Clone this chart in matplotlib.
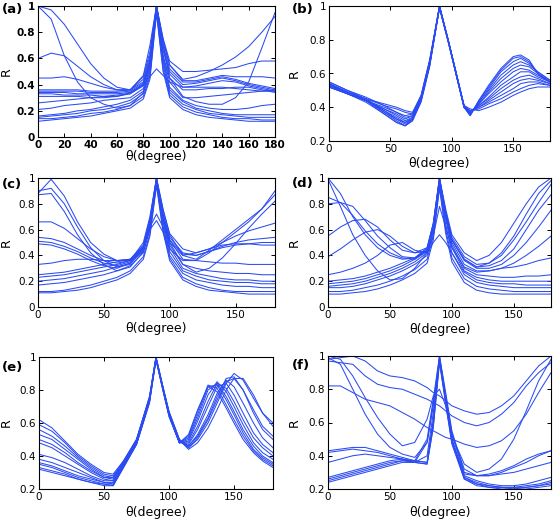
import matplotlib
matplotlib.use("Agg")
import matplotlib.pyplot as plt

# theta grids (degrees)
theta = [0, 10, 20, 30, 40, 50, 60, 70, 80, 85, 90, 95, 100, 110, 120, 130, 140, 150, 160, 170, 180]
theta_b = [0, 15, 30, 45, 55, 62, 68, 75, 82, 90, 97, 104, 110, 115, 122, 130, 140, 150, 156, 163, 170, 180]
theta_e = [0, 10, 20, 30, 40, 50, 57, 65, 75, 85, 90, 95, 100, 108, 115, 122, 130, 137, 144, 150, 157, 165, 172, 180]

# (a)
R_a = [
    [1.00, 0.90, 0.62, 0.42, 0.30, 0.25, 0.22, 0.24, 0.34, 0.55, 1.00, 0.70, 0.45, 0.31, 0.27, 0.25, 0.25, 0.30, 0.42, 0.68, 0.95],
    [1.00, 0.97, 0.86, 0.71, 0.56, 0.45, 0.38, 0.36, 0.47, 0.70, 1.00, 0.75, 0.55, 0.44, 0.46, 0.50, 0.55, 0.61, 0.69, 0.80, 0.92],
    [0.60, 0.64, 0.62, 0.54, 0.46, 0.40, 0.36, 0.36, 0.46, 0.65, 1.00, 0.75, 0.58, 0.50, 0.50, 0.51, 0.52, 0.53, 0.56, 0.58, 0.58],
    [0.45, 0.45, 0.46, 0.44, 0.41, 0.38, 0.36, 0.36, 0.44, 0.62, 1.00, 0.72, 0.55, 0.43, 0.43, 0.45, 0.47, 0.46, 0.46, 0.46, 0.45],
    [0.36, 0.36, 0.36, 0.36, 0.35, 0.35, 0.35, 0.36, 0.42, 0.60, 1.00, 0.70, 0.52, 0.42, 0.42, 0.44, 0.46, 0.44, 0.41, 0.39, 0.37],
    [0.35, 0.35, 0.35, 0.35, 0.34, 0.34, 0.34, 0.35, 0.41, 0.58, 0.98, 0.68, 0.50, 0.40, 0.41, 0.43, 0.45, 0.43, 0.40, 0.38, 0.36],
    [0.34, 0.34, 0.34, 0.33, 0.33, 0.33, 0.33, 0.34, 0.40, 0.56, 0.96, 0.66, 0.48, 0.38, 0.39, 0.41, 0.43, 0.42, 0.39, 0.37, 0.35],
    [0.33, 0.33, 0.32, 0.32, 0.32, 0.31, 0.31, 0.33, 0.39, 0.55, 0.97, 0.62, 0.45, 0.36, 0.36, 0.37, 0.37, 0.38, 0.38, 0.36, 0.34],
    [0.31, 0.31, 0.31, 0.31, 0.30, 0.30, 0.31, 0.34, 0.40, 0.46, 0.52, 0.47, 0.42, 0.38, 0.38, 0.38, 0.38, 0.37, 0.36, 0.35, 0.35],
    [0.26, 0.27, 0.28, 0.29, 0.30, 0.31, 0.32, 0.33, 0.40, 0.56, 0.95, 0.62, 0.42, 0.30, 0.30, 0.31, 0.32, 0.33, 0.34, 0.35, 0.36],
    [0.21, 0.22, 0.24, 0.25, 0.26, 0.28, 0.29, 0.30, 0.37, 0.52, 1.00, 0.60, 0.38, 0.28, 0.24, 0.22, 0.21, 0.21, 0.22, 0.24, 0.25],
    [0.16, 0.17, 0.18, 0.20, 0.21, 0.23, 0.25, 0.28, 0.35, 0.50, 1.00, 0.58, 0.36, 0.27, 0.22, 0.20, 0.18, 0.17, 0.17, 0.17, 0.17],
    [0.15, 0.16, 0.17, 0.18, 0.20, 0.21, 0.23, 0.26, 0.33, 0.48, 0.98, 0.55, 0.34, 0.25, 0.21, 0.18, 0.17, 0.16, 0.15, 0.15, 0.15],
    [0.14, 0.14, 0.15, 0.16, 0.18, 0.19, 0.21, 0.24, 0.31, 0.46, 0.96, 0.52, 0.32, 0.23, 0.19, 0.17, 0.15, 0.14, 0.14, 0.13, 0.13],
    [0.12, 0.13, 0.14, 0.15, 0.16, 0.18, 0.20, 0.22, 0.29, 0.44, 0.94, 0.50, 0.30, 0.21, 0.17, 0.15, 0.14, 0.13, 0.12, 0.12, 0.12],
]

# (b)
R_b = [
    [0.53, 0.49, 0.45, 0.42, 0.40, 0.38, 0.37, 0.47, 0.68, 1.00, 0.80, 0.58, 0.41, 0.39, 0.38, 0.40, 0.43, 0.47, 0.49, 0.51, 0.52, 0.52],
    [0.54, 0.49, 0.45, 0.41, 0.39, 0.37, 0.36, 0.47, 0.68, 1.00, 0.80, 0.58, 0.40, 0.38, 0.39, 0.42, 0.45, 0.49, 0.51, 0.53, 0.54, 0.53],
    [0.52, 0.48, 0.44, 0.40, 0.37, 0.35, 0.36, 0.46, 0.67, 0.99, 0.80, 0.59, 0.41, 0.38, 0.40, 0.43, 0.47, 0.51, 0.54, 0.55, 0.55, 0.53],
    [0.55, 0.50, 0.46, 0.41, 0.37, 0.34, 0.35, 0.46, 0.67, 0.99, 0.79, 0.58, 0.40, 0.37, 0.40, 0.44, 0.49, 0.54, 0.56, 0.57, 0.56, 0.54],
    [0.53, 0.49, 0.44, 0.39, 0.36, 0.33, 0.35, 0.46, 0.67, 1.00, 0.80, 0.59, 0.41, 0.37, 0.41, 0.45, 0.51, 0.56, 0.58, 0.59, 0.57, 0.54],
    [0.52, 0.48, 0.44, 0.39, 0.35, 0.32, 0.34, 0.45, 0.66, 0.99, 0.79, 0.58, 0.40, 0.37, 0.41, 0.46, 0.53, 0.58, 0.61, 0.61, 0.58, 0.55],
    [0.54, 0.49, 0.45, 0.38, 0.34, 0.31, 0.34, 0.45, 0.66, 0.99, 0.80, 0.59, 0.41, 0.36, 0.42, 0.48, 0.55, 0.61, 0.63, 0.62, 0.59, 0.55],
    [0.53, 0.48, 0.44, 0.38, 0.33, 0.31, 0.33, 0.45, 0.66, 1.00, 0.80, 0.59, 0.40, 0.36, 0.42, 0.49, 0.57, 0.63, 0.65, 0.64, 0.60, 0.55],
    [0.55, 0.50, 0.45, 0.37, 0.33, 0.30, 0.33, 0.44, 0.65, 0.99, 0.79, 0.58, 0.40, 0.36, 0.43, 0.50, 0.59, 0.65, 0.67, 0.65, 0.61, 0.56],
    [0.52, 0.48, 0.44, 0.37, 0.32, 0.29, 0.33, 0.44, 0.65, 0.99, 0.80, 0.59, 0.41, 0.36, 0.43, 0.51, 0.61, 0.67, 0.69, 0.66, 0.61, 0.56],
    [0.54, 0.49, 0.44, 0.36, 0.31, 0.29, 0.32, 0.44, 0.65, 1.00, 0.80, 0.59, 0.40, 0.35, 0.44, 0.52, 0.62, 0.69, 0.70, 0.67, 0.60, 0.55],
    [0.53, 0.48, 0.43, 0.36, 0.31, 0.29, 0.32, 0.43, 0.64, 0.99, 0.80, 0.59, 0.40, 0.35, 0.44, 0.53, 0.63, 0.70, 0.71, 0.68, 0.60, 0.55],
]

# (c)
R_c = [
    [0.88, 0.99, 0.86, 0.66, 0.50, 0.41, 0.36, 0.36, 0.50, 0.70, 1.00, 0.76, 0.56, 0.40, 0.37, 0.44, 0.52, 0.60, 0.68, 0.76, 0.87],
    [0.90, 0.92, 0.80, 0.62, 0.46, 0.36, 0.31, 0.33, 0.46, 0.66, 0.98, 0.72, 0.52, 0.37, 0.36, 0.42, 0.50, 0.58, 0.66, 0.76, 0.90],
    [0.87, 0.88, 0.74, 0.56, 0.42, 0.33, 0.28, 0.31, 0.43, 0.63, 0.95, 0.70, 0.50, 0.33, 0.27, 0.30, 0.38, 0.49, 0.61, 0.72, 0.82],
    [0.66, 0.66, 0.61, 0.53, 0.45, 0.39, 0.36, 0.37, 0.48, 0.68, 1.00, 0.75, 0.57, 0.45, 0.42, 0.45, 0.50, 0.55, 0.59, 0.62, 0.65],
    [0.54, 0.53, 0.50, 0.45, 0.40, 0.36, 0.34, 0.36, 0.47, 0.66, 0.98, 0.72, 0.54, 0.42, 0.40, 0.43, 0.47, 0.50, 0.52, 0.53, 0.54],
    [0.51, 0.50, 0.47, 0.43, 0.38, 0.34, 0.32, 0.35, 0.45, 0.64, 0.96, 0.70, 0.52, 0.41, 0.40, 0.43, 0.46, 0.48, 0.49, 0.50, 0.50],
    [0.49, 0.48, 0.45, 0.41, 0.36, 0.32, 0.30, 0.34, 0.44, 0.62, 0.72, 0.62, 0.50, 0.40, 0.42, 0.45, 0.48, 0.49, 0.49, 0.48, 0.48],
    [0.33, 0.34, 0.36, 0.37, 0.37, 0.36, 0.36, 0.37, 0.45, 0.60, 0.67, 0.58, 0.45, 0.36, 0.36, 0.35, 0.34, 0.34, 0.33, 0.33, 0.33],
    [0.25, 0.26, 0.27, 0.29, 0.31, 0.33, 0.35, 0.37, 0.47, 0.66, 1.00, 0.70, 0.48, 0.33, 0.30, 0.28, 0.27, 0.26, 0.26, 0.25, 0.25],
    [0.23, 0.24, 0.25, 0.27, 0.29, 0.31, 0.33, 0.36, 0.46, 0.65, 0.98, 0.68, 0.46, 0.30, 0.26, 0.24, 0.22, 0.21, 0.21, 0.20, 0.20],
    [0.20, 0.21, 0.22, 0.24, 0.26, 0.28, 0.31, 0.34, 0.44, 0.63, 1.00, 0.66, 0.43, 0.28, 0.24, 0.21, 0.20, 0.19, 0.19, 0.18, 0.18],
    [0.17, 0.18, 0.19, 0.21, 0.23, 0.25, 0.28, 0.32, 0.42, 0.60, 0.97, 0.63, 0.40, 0.26, 0.21, 0.19, 0.17, 0.16, 0.16, 0.15, 0.15],
    [0.12, 0.12, 0.13, 0.15, 0.17, 0.20, 0.23, 0.28, 0.39, 0.57, 0.96, 0.60, 0.38, 0.23, 0.18, 0.15, 0.13, 0.12, 0.12, 0.12, 0.12],
    [0.11, 0.11, 0.12, 0.13, 0.15, 0.18, 0.21, 0.26, 0.37, 0.55, 0.94, 0.58, 0.36, 0.21, 0.16, 0.13, 0.12, 0.11, 0.10, 0.10, 0.10],
]

# (d)
R_d = [
    [1.00, 0.88, 0.70, 0.56, 0.46, 0.40, 0.37, 0.38, 0.45, 0.65, 1.00, 0.76, 0.56, 0.42, 0.36, 0.40, 0.50, 0.65, 0.80, 0.93, 1.00],
    [0.99, 0.78, 0.56, 0.40, 0.28, 0.21, 0.22, 0.30, 0.42, 0.62, 0.98, 0.72, 0.52, 0.37, 0.31, 0.34, 0.42, 0.55, 0.72, 0.88, 0.98],
    [0.85, 0.81, 0.71, 0.59, 0.49, 0.42, 0.38, 0.37, 0.43, 0.62, 1.00, 0.74, 0.54, 0.39, 0.33, 0.34, 0.40, 0.52, 0.66, 0.81, 0.95],
    [0.80, 0.81, 0.78, 0.67, 0.55, 0.46, 0.39, 0.38, 0.44, 0.63, 0.98, 0.72, 0.52, 0.37, 0.31, 0.32, 0.36, 0.45, 0.60, 0.75, 0.87],
    [0.55, 0.62, 0.67, 0.68, 0.62, 0.52, 0.44, 0.42, 0.46, 0.64, 1.00, 0.73, 0.52, 0.36, 0.30, 0.30, 0.33, 0.40, 0.50, 0.62, 0.75],
    [0.39, 0.45, 0.52, 0.58, 0.60, 0.55, 0.47, 0.42, 0.43, 0.60, 0.95, 0.70, 0.50, 0.33, 0.28, 0.28, 0.30, 0.34, 0.40, 0.47, 0.55],
    [0.25, 0.27, 0.30, 0.34, 0.40, 0.48, 0.50, 0.44, 0.42, 0.55, 0.78, 0.62, 0.46, 0.31, 0.27, 0.28, 0.30, 0.31, 0.33, 0.36, 0.38],
    [0.20, 0.21, 0.22, 0.24, 0.27, 0.30, 0.34, 0.38, 0.46, 0.65, 1.00, 0.70, 0.48, 0.30, 0.25, 0.24, 0.23, 0.23, 0.24, 0.24, 0.25],
    [0.18, 0.19, 0.20, 0.22, 0.25, 0.28, 0.32, 0.37, 0.44, 0.62, 0.98, 0.68, 0.46, 0.28, 0.23, 0.21, 0.20, 0.20, 0.20, 0.20, 0.20],
    [0.16, 0.17, 0.18, 0.20, 0.23, 0.26, 0.30, 0.35, 0.42, 0.50, 0.56, 0.50, 0.42, 0.27, 0.21, 0.19, 0.18, 0.18, 0.17, 0.17, 0.17],
    [0.15, 0.15, 0.16, 0.18, 0.21, 0.24, 0.28, 0.33, 0.40, 0.58, 0.96, 0.64, 0.42, 0.25, 0.19, 0.17, 0.16, 0.15, 0.15, 0.15, 0.15],
    [0.12, 0.12, 0.13, 0.15, 0.17, 0.20, 0.24, 0.29, 0.37, 0.55, 0.94, 0.60, 0.38, 0.22, 0.16, 0.14, 0.13, 0.12, 0.12, 0.12, 0.12],
    [0.10, 0.10, 0.11, 0.12, 0.14, 0.17, 0.21, 0.26, 0.34, 0.52, 0.92, 0.57, 0.35, 0.19, 0.13, 0.11, 0.10, 0.10, 0.10, 0.10, 0.10],
]

# (e)
R_e = [
    [0.62, 0.57, 0.49, 0.41, 0.35, 0.30, 0.29, 0.37, 0.50, 0.76, 1.00, 0.83, 0.67, 0.50, 0.45, 0.50, 0.60, 0.72, 0.84, 0.90, 0.86, 0.75, 0.66, 0.60],
    [0.59, 0.55, 0.48, 0.40, 0.34, 0.29, 0.28, 0.37, 0.50, 0.76, 1.00, 0.83, 0.67, 0.50, 0.44, 0.48, 0.57, 0.68, 0.80, 0.87, 0.87, 0.77, 0.66, 0.58],
    [0.56, 0.52, 0.46, 0.39, 0.33, 0.28, 0.27, 0.36, 0.50, 0.75, 0.99, 0.82, 0.66, 0.50, 0.46, 0.52, 0.63, 0.76, 0.87, 0.88, 0.80, 0.68, 0.58, 0.52],
    [0.53, 0.50, 0.44, 0.38, 0.32, 0.27, 0.27, 0.36, 0.49, 0.75, 0.99, 0.82, 0.66, 0.49, 0.45, 0.51, 0.62, 0.74, 0.85, 0.87, 0.80, 0.66, 0.56, 0.50],
    [0.50, 0.47, 0.42, 0.36, 0.31, 0.27, 0.26, 0.36, 0.49, 0.75, 1.00, 0.83, 0.66, 0.49, 0.46, 0.53, 0.65, 0.78, 0.86, 0.82, 0.72, 0.60, 0.51, 0.45],
    [0.48, 0.45, 0.40, 0.35, 0.30, 0.26, 0.25, 0.35, 0.49, 0.74, 0.99, 0.82, 0.66, 0.49, 0.47, 0.56, 0.70, 0.82, 0.84, 0.77, 0.66, 0.54, 0.47, 0.42],
    [0.41, 0.39, 0.36, 0.32, 0.28, 0.25, 0.25, 0.35, 0.48, 0.74, 0.99, 0.82, 0.65, 0.48, 0.48, 0.58, 0.73, 0.84, 0.81, 0.73, 0.62, 0.51, 0.45, 0.40],
    [0.38, 0.36, 0.33, 0.30, 0.27, 0.24, 0.24, 0.34, 0.48, 0.74, 1.00, 0.82, 0.65, 0.48, 0.49, 0.61, 0.77, 0.85, 0.79, 0.70, 0.59, 0.48, 0.42, 0.38],
    [0.36, 0.34, 0.31, 0.28, 0.26, 0.24, 0.23, 0.34, 0.48, 0.73, 0.99, 0.82, 0.65, 0.48, 0.50, 0.63, 0.80, 0.84, 0.76, 0.67, 0.56, 0.46, 0.40, 0.36],
    [0.35, 0.33, 0.30, 0.27, 0.25, 0.23, 0.23, 0.34, 0.47, 0.73, 0.99, 0.81, 0.65, 0.48, 0.51, 0.65, 0.82, 0.83, 0.74, 0.65, 0.54, 0.44, 0.39, 0.35],
    [0.33, 0.31, 0.29, 0.26, 0.24, 0.23, 0.22, 0.33, 0.47, 0.73, 0.99, 0.81, 0.64, 0.48, 0.52, 0.67, 0.83, 0.81, 0.71, 0.62, 0.52, 0.43, 0.38, 0.34],
    [0.32, 0.30, 0.28, 0.26, 0.24, 0.22, 0.22, 0.33, 0.47, 0.72, 0.98, 0.81, 0.64, 0.48, 0.53, 0.68, 0.82, 0.79, 0.69, 0.60, 0.50, 0.42, 0.37, 0.33],
]

# (f)
R_f = [
    [0.98, 0.99, 1.00, 0.97, 0.91, 0.88, 0.87, 0.85, 0.81, 0.78, 0.76, 0.73, 0.70, 0.67, 0.65, 0.66, 0.70, 0.76, 0.85, 0.94, 1.00],
    [0.97, 0.96, 0.95, 0.88, 0.83, 0.81, 0.80, 0.77, 0.74, 0.72, 0.70, 0.67, 0.64, 0.60, 0.58, 0.60, 0.65, 0.72, 0.82, 0.90, 0.96],
    [0.82, 0.82, 0.78, 0.74, 0.72, 0.70, 0.66, 0.62, 0.57, 0.55, 0.53, 0.51, 0.50, 0.47, 0.45, 0.46, 0.49, 0.55, 0.65, 0.78, 0.90],
    [1.00, 0.98, 0.88, 0.75, 0.63, 0.53, 0.46, 0.48, 0.62, 0.76, 0.80, 0.70, 0.52, 0.35, 0.30, 0.32, 0.38, 0.50, 0.67, 0.85, 0.98],
    [0.99, 0.95, 0.80, 0.65, 0.53, 0.45, 0.41, 0.39, 0.48, 0.70, 0.97, 0.74, 0.53, 0.32, 0.28, 0.28, 0.30, 0.33, 0.36, 0.40, 0.43],
    [0.43, 0.44, 0.45, 0.45, 0.43, 0.41, 0.39, 0.37, 0.50, 0.74, 1.00, 0.78, 0.55, 0.30, 0.28, 0.29, 0.31, 0.34, 0.38, 0.41, 0.43],
    [0.42, 0.43, 0.44, 0.43, 0.42, 0.40, 0.38, 0.36, 0.48, 0.72, 0.99, 0.76, 0.53, 0.29, 0.28, 0.28, 0.29, 0.30, 0.32, 0.34, 0.36],
    [0.36, 0.38, 0.40, 0.41, 0.40, 0.39, 0.38, 0.36, 0.40, 0.66, 0.98, 0.74, 0.50, 0.28, 0.25, 0.23, 0.22, 0.22, 0.23, 0.25, 0.27],
    [0.27, 0.29, 0.31, 0.33, 0.35, 0.37, 0.38, 0.37, 0.36, 0.62, 1.00, 0.75, 0.50, 0.27, 0.24, 0.22, 0.21, 0.21, 0.22, 0.23, 0.25],
    [0.26, 0.28, 0.30, 0.32, 0.34, 0.36, 0.37, 0.37, 0.36, 0.60, 0.98, 0.73, 0.49, 0.27, 0.23, 0.22, 0.21, 0.21, 0.21, 0.22, 0.24],
    [0.25, 0.27, 0.29, 0.31, 0.33, 0.35, 0.37, 0.36, 0.35, 0.58, 0.97, 0.72, 0.48, 0.26, 0.23, 0.21, 0.21, 0.20, 0.21, 0.22, 0.23],
    [0.24, 0.26, 0.28, 0.30, 0.32, 0.34, 0.36, 0.36, 0.35, 0.57, 0.96, 0.71, 0.47, 0.26, 0.22, 0.21, 0.20, 0.20, 0.20, 0.21, 0.22],
]

yt_full = [0, 0.2, 0.4, 0.6, 0.8, 1]
yl_full = ["0", "0.2", "0.4", "0.6", "0.8", "1"]
yt_part = [0.2, 0.4, 0.6, 0.8, 1]
yl_part = ["0.2", "0.4", "0.6", "0.8", "1"]

LINE = "#2b4bf2"

# label, x, curves, axes box in px (left, top, right, bottom), ylim, yticks, yticklabels, xticks,
# panel-label position px, xlabel gap px, ylabel right edge px
panels = [
    ("(a)", theta, R_a, (38, 6, 275, 137), (0, 1), yt_full, yl_full, list(range(0, 181, 20)), (2, 10), 13, 13),
    ("(b)", theta_b, R_b, (329, 6, 550, 141), (0.2, 1), yt_part, yl_part, [0, 50, 100, 150], (292, 10), 16, 301),
    ("(c)", theta, R_c, (38, 178, 275, 307), (0, 1), yt_full, yl_full, [0, 50, 100, 150], (2, 184), 15, 13),
    ("(d)", theta, R_d, (328, 178, 551, 307), (0, 1), yt_full, yl_full, [0, 50, 100, 150], (292, 183), 16, 301),
    ("(e)", theta_e, R_e, (39, 357, 273, 489), (0.2, 1), yt_part, yl_part, [0, 50, 100, 150], (2, 368), 17, 13),
    ("(f)", theta, R_f, (328, 356, 551, 489), (0.2, 1), yt_part, yl_part, [0, 50, 100, 150], (292, 365), 17, 301),
]

W, H = 553, 520
fig = plt.figure(figsize=(W / 100, H / 100), dpi=100)

for lab, x, curves, (l, t, r, b), ylim, yt, yl, xt, (lx, ly), xgap, yedge in panels:
    ax = fig.add_axes([l / W, 1 - b / H, (r - l) / W, (b - t) / H])
    for y in curves:
        ax.plot(x, y, color=LINE, lw=0.75)
    ax.set_xlim(0, 180)
    ax.set_ylim(*ylim)
    ax.set_xticks(xt)
    ax.set_yticks(yt)
    ax.set_yticklabels(yl)
    bold = "bold" if lab == "(a)" else "normal"
    ax.tick_params(direction="in", top=True, right=True, length=3, width=0.7,
                   labelsize=7.5, pad=2)
    for tl in ax.get_xticklabels() + ax.get_yticklabels():
        tl.set_fontweight(bold)
    for s in ax.spines.values():
        s.set_linewidth(0.8)
    ax.set_xlabel("θ(degree)", fontsize=9)
    ax.set_ylabel("R", fontsize=9)
    ax.xaxis.set_label_coords(0.5, -xgap / (b - t))
    ax.yaxis.set_label_coords(-(l - yedge) / (r - l), 0.5)
    fig.text(lx / W, 1 - ly / H, lab, fontsize=9.5, fontweight="bold", va="center", ha="left")

fig.savefig("out.png", dpi=100)
